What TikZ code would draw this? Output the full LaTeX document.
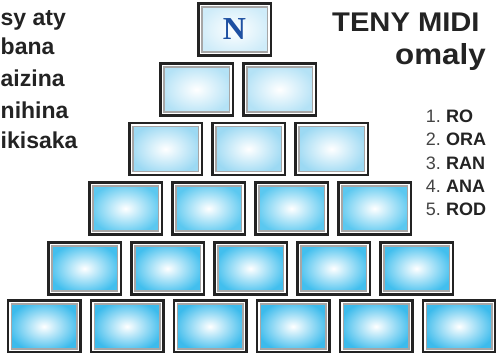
\documentclass[tikz,border=0pt]{standalone}
\usepackage{fontspec}
\setmainfont{Liberation Sans}
\newfontfamily\wideface[FakeStretch=1.08]{Liberation Sans}
\newfontfamily\letterfont{Liberation Serif}
\definecolor{ink}{HTML}{232323}
\definecolor{nblue}{HTML}{1E50A2}
\definecolor{tileA}{HTML}{CFECF9}
\definecolor{tileB}{HTML}{B4E2F6}
\definecolor{tileC}{HTML}{9CD9F3}
\definecolor{tileD}{HTML}{5BC8F0}
\definecolor{tileE}{HTML}{42BFEE}
\definecolor{tileF}{HTML}{3CBBEC}
\tikzset{
  tile/.style={rectangle,draw=ink,line width=2.5pt,minimum width=72.5pt,minimum height=52pt,
    inner sep=0pt,inner color=white,outer color=#1,
    path picture={
      \draw[white,line width=1.5pt]
        ([shift={(2pt,2pt)}]path picture bounding box.south west) rectangle
        ([shift={(-2pt,-2pt)}]path picture bounding box.north east);
      \draw[gray!70,line width=1.5pt]
        ([shift={(3.5pt,3.5pt)}]path picture bounding box.south west) rectangle
        ([shift={(-3.5pt,-3.5pt)}]path picture bounding box.north east);
    }},
  sideword/.style={anchor=base west,inner sep=0pt,text=ink,font=\bfseries\fontsize{23}{23}\selectfont},
  headword/.style={anchor=base west,inner sep=0pt,text=ink,font=\wideface\bfseries\fontsize{27}{27}\selectfont},
  listnum/.style={anchor=base east,inner sep=0pt,text=ink!85,font=\fontsize{18}{18}\selectfont},
  listword/.style={anchor=base west,inner sep=0pt,text=ink,font=\bfseries\fontsize{18}{18}\selectfont}
}
\begin{document}
\begin{tikzpicture}[x=1pt,y=-1pt]
\useasboundingbox (0,0) rectangle (496,353);
\clip (0,0) rectangle (496,353);
% pyramid of tiles, row by row
\foreach \r/\x/\y/\c in {1/234.5/29.5/tileA,2/196.5/89.5/tileB,3/165.5/149/tileC,
    4/125.5/208.5/tileD,5/84.5/268.5/tileE,6/44/326.5/tileF}{
  \foreach \k in {1,...,\r}{
    \node[tile=\c] (t\r\k) at ({\x+83*(\k-1)},\y) {};
  }
}
\node[text=nblue,font=\letterfont\bfseries\fontsize{32}{32}\selectfont] (nletter) at (t11) {N};
% words on the left
\node[sideword] (w1) at (0.5,26) {sy aty};
\node[sideword] (w2) at (0.5,55) {bana};
\node[sideword] (w3) at (0.5,87) {aizina};
\node[sideword] (w4) at (0.5,118) {nihina};
\node[sideword] (w5) at (0.5,149) {ikisaka};
% heading on the right
\node[headword] (head) at (332,32) {TENY MIDI};
\node[headword,font=\wideface\bfseries\fontsize{29}{29}\selectfont] (head2) at (395,65) {omaly};
% numbered list
\foreach \i/\b/\w in {1/123/RO,2/146/ORA,3/169/RAN,4/192/ANA,5/215/ROD}{
  \node[listnum] (n\i) at (441,\b) {\i.};
  \node[listword] (l\i) at (446,\b) {\w};
}
\end{tikzpicture}
\end{document}
